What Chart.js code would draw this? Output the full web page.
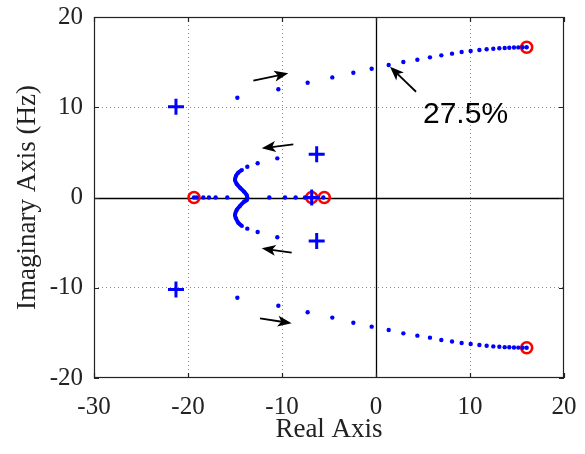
<!DOCTYPE html>
<html>
<head>
<meta charset="utf-8">
<script src="https://cdn.jsdelivr.net/npm/chart.js@4.4.0/dist/chart.umd.min.js"></script>
<style>
  html, body { margin: 0; padding: 0; background: #fff; }
</style>
</head>
<body>
<canvas id="rootLocus" width="585" height="454"></canvas>
<script>
// upper / lower complex branches (end at the red poles near 16 +/- 16.6j)
const upperX = [-14.75, -10.39, -7.27, -4.65, -2.41, -0.46, 1.35, 2.91, 4.40, 5.74, 6.95, 8.09, 9.11, 10.07, 11.0, 11.77, 12.48, 13.12, 13.69, 14.18, 14.68, 15.14, 15.6, 16.03];
const upperY = [11.06, 11.99, 12.72, 13.31, 13.83, 14.27, 14.68, 15.01, 15.27, 15.53, 15.75, 15.94, 16.12, 16.23, 16.34, 16.42, 16.49, 16.53, 16.57, 16.6, 16.62, 16.63, 16.64, 16.65];
const lowerX = [-14.75, -10.39, -7.27, -4.65, -2.41, -0.46, 1.35, 2.91, 4.40, 5.74, 6.95, 8.09, 9.11, 10.07, 11.0, 11.77, 12.48, 13.12, 13.69, 14.18, 14.68, 15.14, 15.6, 16.03];
const lowerY = [-11.1, -11.99, -12.72, -13.31, -13.87, -14.31, -14.68, -15.05, -15.31, -15.53, -15.79, -15.96, -16.13, -16.24, -16.35, -16.43, -16.5, -16.54, -16.58, -16.6, -16.62, -16.63, -16.64, -16.65];

// inner branches: sparse dots, then the dense S shaped part
const midUpX = [-10.5, -12.59, -13.69];
const midUpY = [4.34, 3.79, 3.41];
const midLoX = [-10.5, -12.59, -13.69];
const midLoY = [-4.41, -3.82, -3.45];
const sUpX = [-14.26, -14.65, -14.9, -15.0, -14.82, -14.47, -14.04, -13.76, -13.69];
const sUpY = [3.05, 2.75, 2.38, 1.94, 1.5, 1.09, 0.65, 0.28, 0];
const sLoX = [-13.69, -13.76, -14.04, -14.47, -14.82, -15.0, -14.9, -14.65, -14.26];
const sLoY = [0, -0.3, -0.46, -0.94, -1.39, -1.94, -2.31, -2.79, -3.16];

// real axis locus dots
const realX = [-19.36, -19.08, -18.37, -17.77, -17.06, -15.82, -11.35, -9.68, -8.55, -7.55, -6.84, -5.6];

// poles (red o) and zeros (blue +)
const poleX = [16.03, 16.03, -19.36, -6.84, -5.5];
const poleY = [16.65, -16.65, 0, 0, 0];
const zeroX = [-21.28, -21.28, -6.31, -6.31, -6.84];
const zeroY = [10.06, -10.2, 4.79, -4.82, 0];

// annotation arrows [x0, y0, x1, y1] in axis units, head at the second point
const arrows = [
  [-13.05, 12.94, -9.33, 13.76],
  [-8.8, 5.89, -12.16, 5.45],
  [-8.97, -6.12, -12.16, -5.63],
  [-12.34, -13.39, -8.97, -13.94],
  [4.26, 11.72, 1.49, 14.49]
];
const noteText = '27.5%';
const notePos = [5.0, 8.23];

const xTicks = [-30, -20, -10, 0, 10, 20];
const yTicks = [-20, -10, 0, 10, 20];

const BLUE = '#0000ff';
const RED = '#ff0000';
const serif = "'Liberation Serif', 'Times New Roman', serif";

function pts(xs, ys) {
  return xs.map((x, i) => ({ x: x, y: ys[i] }));
}

const frame = {
  id: 'frame',
  beforeDatasetsDraw(chart) {
    const { ctx, chartArea: a, scales: { x, y } } = chart;
    ctx.save();
    ctx.strokeStyle = '#000';
    ctx.lineWidth = 1.3;
    const x0 = Math.round(x.getPixelForValue(0)) + 0.5;
    const y0 = Math.round(y.getPixelForValue(0)) + 0.5;
    ctx.beginPath();
    ctx.moveTo(a.left, y0); ctx.lineTo(a.right, y0);
    ctx.moveTo(x0, a.top); ctx.lineTo(x0, a.bottom);
    ctx.stroke();
    ctx.restore();
  },
  afterDraw(chart) {
    const { ctx, chartArea: a, scales: { x, y } } = chart;
    ctx.save();
    // box + inward ticks
    ctx.strokeStyle = '#222';
    ctx.lineWidth = 1.2;
    ctx.strokeRect(a.left + 0.5, a.top + 0.5, a.right - a.left - 1, a.bottom - a.top - 1);
    ctx.beginPath();
    xTicks.forEach(v => {
      const px = Math.round(x.getPixelForValue(v)) + 0.5;
      ctx.moveTo(px, a.bottom); ctx.lineTo(px, a.bottom - 5);
      ctx.moveTo(px, a.top); ctx.lineTo(px, a.top + 5);
    });
    yTicks.forEach(v => {
      const py = Math.round(y.getPixelForValue(v)) + 0.5;
      ctx.moveTo(a.left, py); ctx.lineTo(a.left + 5, py);
      ctx.moveTo(a.right, py); ctx.lineTo(a.right - 5, py);
    });
    ctx.stroke();

    // arrows
    ctx.strokeStyle = '#000';
    ctx.fillStyle = '#000';
    ctx.lineWidth = 1.8;
    arrows.forEach(ar => {
      const sx = x.getPixelForValue(ar[0]), sy = y.getPixelForValue(ar[1]);
      const ex = x.getPixelForValue(ar[2]), ey = y.getPixelForValue(ar[3]);
      const ang = Math.atan2(ey - sy, ex - sx);
      const len = 14, half = 5.5;
      const bx = ex - len * Math.cos(ang), by = ey - len * Math.sin(ang);
      ctx.beginPath();
      ctx.moveTo(sx, sy); ctx.lineTo(bx + 4 * Math.cos(ang), by + 4 * Math.sin(ang));
      ctx.stroke();
      ctx.beginPath();
      ctx.moveTo(ex, ey);
      ctx.lineTo(bx - half * Math.sin(ang), by + half * Math.cos(ang));
      ctx.lineTo(bx + 3.5 * Math.cos(ang), by + 3.5 * Math.sin(ang));
      ctx.lineTo(bx + half * Math.sin(ang), by - half * Math.cos(ang));
      ctx.closePath();
      ctx.fill();
    });

    ctx.font = "30px 'Liberation Sans', Arial, sans-serif";
    ctx.textBaseline = 'alphabetic';
    ctx.textAlign = 'left';
    ctx.fillText(noteText, x.getPixelForValue(notePos[0]), y.getPixelForValue(notePos[1]));
    ctx.restore();
  }
};

const dotStyle = { showLine: false, pointRadius: 2.2, pointBackgroundColor: BLUE, pointBorderWidth: 0 };

new Chart(document.getElementById('rootLocus'), {
  type: 'scatter',
  data: {
    datasets: [
      Object.assign({ data: pts(upperX, upperY) }, dotStyle),
      Object.assign({ data: pts(lowerX, lowerY) }, dotStyle),
      Object.assign({ data: pts(midUpX, midUpY) }, dotStyle),
      Object.assign({ data: pts(midLoX, midLoY) }, dotStyle),
      Object.assign({ data: realX.map(v => ({ x: v, y: 0 })) }, dotStyle),
      {
        data: pts(sUpX, sUpY), showLine: true, tension: 0.4, borderColor: BLUE, borderWidth: 4,
        pointRadius: 2, pointBackgroundColor: BLUE, pointBorderWidth: 0
      },
      {
        data: pts(sLoX, sLoY), showLine: true, tension: 0.4, borderColor: BLUE, borderWidth: 4,
        pointRadius: 2, pointBackgroundColor: BLUE, pointBorderWidth: 0
      },
      {
        data: pts(zeroX, zeroY), showLine: false, pointStyle: 'cross', pointRadius: 8,
        pointBorderColor: BLUE, pointBorderWidth: 3
      },
      {
        data: pts(poleX, poleY), showLine: false, pointStyle: 'circle', pointRadius: 5.5,
        pointBorderColor: RED, pointBackgroundColor: 'rgba(0,0,0,0)', pointBorderWidth: 2.6
      }
    ]
  },
  options: {
    responsive: false,
    animation: false,
    layout: { padding: { top: 17, right: 21, left: 0, bottom: 0 } },
    plugins: { legend: { display: false }, tooltip: { enabled: false } },
    scales: {
      x: {
        type: 'linear', min: -30, max: 20,
        afterBuildTicks: s => { s.ticks = xTicks.map(v => ({ value: v })); },
        afterFit: s => { s.height = 76; s.paddingLeft = 0; s.paddingRight = 0; },
        ticks: { font: { family: serif, size: 25 }, color: '#222', padding: 14, maxRotation: 0 },
        grid: {
          drawTicks: false,
          color: c => (c.tick && (c.tick.value === 0 || c.tick.value === -30 || c.tick.value === 20)) ? 'rgba(0,0,0,0)' : '#8a8a8a'
        },
        border: { display: false, dash: [1, 3] },
        title: { display: true, text: 'Real Axis', font: { family: serif, size: 27 }, color: '#222', padding: { top: 0, bottom: 8 } }
      },
      y: {
        type: 'linear', min: -20, max: 20,
        afterBuildTicks: s => { s.ticks = yTicks.map(v => ({ value: v })); },
        afterFit: s => { s.width = 94; s.paddingTop = 0; s.paddingBottom = 0; },
        ticks: { font: { family: serif, size: 25 }, color: '#222', padding: 11 },
        grid: {
          drawTicks: false,
          color: c => (c.tick && (c.tick.value === 0 || c.tick.value === -20 || c.tick.value === 20)) ? 'rgba(0,0,0,0)' : '#8a8a8a'
        },
        border: { display: false, dash: [1, 3] },
        title: { display: true, text: 'Imaginary Axis (Hz)', font: { family: serif, size: 27 }, color: '#222', padding: { top: 12, bottom: 0 } }
      }
    }
  },
  plugins: [frame]
});
</script>
</body>
</html>
